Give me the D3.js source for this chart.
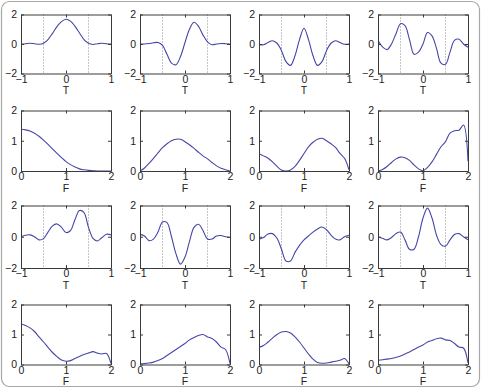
<!DOCTYPE html>
<html><head><meta charset="utf-8">
<script src="https://cdn.jsdelivr.net/npm/d3@7"></script>
<style>
html,body{margin:0;padding:0;background:#fff;}
svg{display:block;font-family:"Liberation Sans",Arial,sans-serif;}
</style></head>
<body><svg id="c" width="482" height="388"></svg>
<script>
// sample positions
const tGrid = [-1,-0.9,-0.8,-0.7,-0.6,-0.5,-0.4,-0.3,-0.2,-0.1,0,0.1,0.2,0.3,0.4,0.5,0.6,0.7,0.8,0.9,1];
const fGrid = [0,0.1,0.2,0.3,0.4,0.5,0.6,0.7,0.8,0.9,1,1.1,1.2,1.3,1.4,1.5,1.6,1.7,1.8,1.9,2];
const tTicks = [-1,0,1], tYTicks = [-2,0,2];
const fTicks = [0,1,2], fYTicks = [0,1,2];
const markers = [-0.5, 0.5];

// row 1: time-domain
const t1 = [0,0.02,0.05,0.02,-0.02,0.05,0.3,0.72,1.18,1.52,1.68,1.55,1.2,0.75,0.3,0.05,-0.03,0.02,0.05,0.02,0];
const t2 = [0,0,0.03,0.08,0.1,-0.1,-0.7,-1.3,-1.4,-0.85,0.1,1.0,1.47,1.2,0.6,0.15,-0.05,0,0.03,0.02,0];
const t3 = [-0.05,-0.05,0.1,0.22,0.05,-0.45,-1.2,-1.45,-0.8,0.3,1.07,0.3,-0.8,-1.45,-1.2,-0.45,0.05,0.22,0.1,-0.02,0];
const t4 = [0.25,-0.2,-0.38,0.0,0.7,1.38,1.25,0.3,-0.7,-0.55,0.0,0.78,0.55,-0.3,-1.3,-1.38,-0.55,0.25,0.32,0.0,-0.22];
// row 2: spectra
const f1 = [1.38,1.36,1.32,1.25,1.15,1.02,0.88,0.73,0.58,0.44,0.31,0.21,0.13,0.07,0.04,0.02,0.01,0,0,0,0];
const f2 = [0,0.1,0.25,0.42,0.6,0.77,0.9,1.0,1.05,1.05,0.97,0.87,0.75,0.62,0.5,0.4,0.28,0.17,0.09,0.04,0];
const f3 = [0.57,0.5,0.42,0.3,0.15,0.03,0.0,0.03,0.15,0.35,0.58,0.8,0.95,1.05,1.08,1.0,0.9,0.78,0.58,0.42,0.04];
const f4 = [0,0.05,0.15,0.28,0.4,0.46,0.44,0.35,0.2,0.07,0.01,0.12,0.3,0.55,0.8,0.97,1.25,1.33,1.35,1.52,0.32];
// row 3: time-domain
const t5 = [0.0,0.1,0.12,0.0,-0.2,-0.12,0.3,0.7,0.82,0.6,0.27,0.4,1.1,1.68,1.55,0.6,-0.1,-0.27,-0.05,0.16,0.12];
const t6 = [0.15,0.05,-0.25,-0.15,0.3,0.95,0.9,0.0,-1.1,-1.75,-1.3,-0.3,0.6,0.8,0.4,-0.15,-0.15,0.05,0.08,0.0,-0.05];
const t7 = [-0.15,-0.05,0.18,0.2,-0.1,-0.8,-1.55,-1.55,-1.0,-0.55,-0.2,0.05,0.3,0.5,0.62,0.45,0.1,-0.15,-0.2,0.0,0.1];
const t8 = [0.0,-0.1,-0.2,-0.05,0.2,0.3,-0.2,-0.8,-0.8,0.0,1.2,1.83,1.2,0.1,-0.5,-0.6,-0.2,0.15,0.2,0.0,-0.2];
// row 4: spectra
const f5 = [1.35,1.3,1.22,1.1,0.92,0.75,0.57,0.4,0.26,0.15,0.11,0.13,0.2,0.27,0.33,0.38,0.43,0.38,0.35,0.37,0.03];
const f6 = [0.02,0.03,0.05,0.08,0.13,0.2,0.3,0.4,0.5,0.6,0.7,0.82,0.9,0.97,1.0,0.92,0.87,0.75,0.58,0.5,0.03];
const f7 = [0.57,0.63,0.75,0.88,1.0,1.08,1.1,1.05,0.92,0.75,0.55,0.35,0.18,0.07,0.04,0.05,0.08,0.11,0.14,0.2,0.02];
const f8 = [0.14,0.16,0.18,0.2,0.24,0.28,0.35,0.42,0.5,0.58,0.65,0.75,0.8,0.86,0.88,0.82,0.8,0.7,0.58,0.55,0.05];

const rows = [
  {kind:"T", series:[t1,t2,t3,t4]},
  {kind:"F", series:[f1,f2,f3,f4]},
  {kind:"T", series:[t5,t6,t7,t8]},
  {kind:"F", series:[f5,f6,f7,f8]}
];

const colLeft = [21, 140, 259, 378];
const plotW = 90;
const rowTop = [14.5, 110.5, 205.5, 304.5];
const rowH = [59, 60.5, 62.5, 60];

const svg = d3.select("#c");
svg.append("rect").attr("x",1.5).attr("y",1.5).attr("width",478).attr("height",385)
  .attr("rx",8).attr("fill","none").attr("stroke","#a8a8a8").attr("stroke-width",1.2);

const defs = svg.append("defs");
let clipId = 0;
rows.forEach((row, ri) => {
  row.series.forEach((vals, ci) => {
    const x0 = colLeft[ci], y0 = rowTop[ri], h = rowH[ri];
    const isT = row.kind === "T";
    const xs = d3.scaleLinear().domain(isT ? [-1,1] : [0,2]).range([x0, x0+plotW]);
    const ys = d3.scaleLinear().domain(isT ? [-2,2] : [0,2]).range([y0+h, y0]);
    const grid = isT ? tGrid : fGrid;
    const xt = isT ? tTicks : fTicks;
    const yt = isT ? tYTicks : fYTicks;
    const g = svg.append("g");
    const id = "clip" + (clipId++);
    defs.append("clipPath").attr("id", id).append("rect")
      .attr("x", x0).attr("y", y0).attr("width", plotW).attr("height", h);

    if (isT) {
      g.selectAll("line.mk").data(markers).enter().append("line")
        .attr("x1", d=>xs(d)).attr("x2", d=>xs(d))
        .attr("y1", y0).attr("y2", y0+h)
        .attr("stroke","#8a8a8a").attr("stroke-width",1).attr("stroke-dasharray","1,2");
    }
    const line = d3.line().x((d,i)=>xs(grid[i])).y(d=>ys(d)).curve(d3.curveCatmullRom.alpha(0.5));
    g.append("path").datum(vals).attr("d", line).attr("clip-path","url(#"+id+")")
      .attr("fill","none").attr("stroke","#4646a6").attr("stroke-width",1.1);

    // axes (MATLAB-style box with inward ticks)
    const bottom = d3.axisBottom(xs).tickValues(xt).tickSizeInner(-3).tickSizeOuter(0).tickPadding(2).tickFormat(d3.format("d"));
    const top = d3.axisTop(xs).tickValues(xt).tickSizeInner(-3).tickSizeOuter(0).tickFormat("");
    const left = d3.axisLeft(ys).tickValues(yt).tickSizeInner(-3).tickSizeOuter(0).tickPadding(4).tickFormat(d3.format("d"));
    const right = d3.axisRight(ys).tickValues(yt).tickSizeInner(-3).tickSizeOuter(0).tickFormat("");
    const styleAxis = sel => {
      sel.selectAll("path.domain").attr("stroke","#3a3a3a").attr("stroke-width",1);
      sel.selectAll(".tick line").attr("stroke","#3a3a3a");
      sel.selectAll(".tick text").attr("fill","#222").attr("font-size",10.5)
        .attr("font-family","Liberation Sans, Arial, sans-serif");
    };
    g.append("g").attr("transform",`translate(0,${y0+h})`).call(bottom).call(styleAxis);
    g.append("g").attr("transform",`translate(0,${y0})`).call(top).call(styleAxis);
    g.append("g").attr("transform",`translate(${x0},0)`).call(left).call(styleAxis);
    g.append("g").attr("transform",`translate(${x0+plotW},0)`).call(right).call(styleAxis);

    g.append("text").attr("x", x0 + plotW/2).attr("y", y0 + h + 20.5)
      .attr("text-anchor","middle").attr("font-size",10.5).attr("fill","#222")
      .text(row.kind);
  });
});
</script></body></html>
